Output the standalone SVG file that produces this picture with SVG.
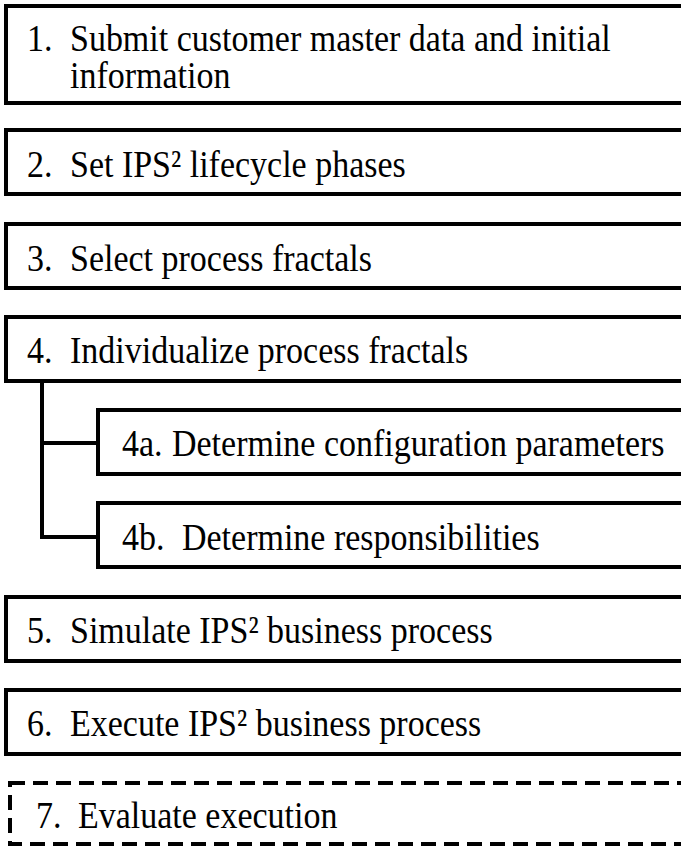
<svg xmlns="http://www.w3.org/2000/svg" width="681" height="847" viewBox="0 0 681 847">
  <style>
    .box { fill: #ffffff; stroke: #000000; stroke-width: 4; }
    .dashed { fill: #ffffff; stroke: #000000; stroke-width: 4; stroke-dasharray: 15 8; }
    .label { font-family: "Liberation Serif", "Times New Roman", serif; font-size: 34px; fill: #000000; }
    .link { fill: none; stroke: #000000; stroke-width: 4; }
  </style>
  <rect x="0" y="0" width="681" height="847" fill="#ffffff"/>

  <g id="connectors">
    <path class="link" d="M42,381 V537 H98"/>
    <path class="link" d="M42,443 H98"/>
  </g>

  <!-- labels are set in a slightly tall serif: each baseline is translated, then stretched vertically -->
  <g id="step1">
    <rect class="box" x="6" y="6" width="700" height="97"/>
    <text class="label" transform="translate(0,51) scale(1,1.14)"><tspan x="27" y="0">1.</tspan><tspan x="70" y="0">Submit customer master data and initial</tspan><tspan x="70" y="32.5">information</tspan></text>
  </g>

  <g id="step2">
    <rect class="box" x="6" y="130" width="700" height="64"/>
    <text class="label" transform="translate(0,177) scale(1,1.14)"><tspan x="27">2.</tspan><tspan x="70">Set IPS² lifecycle phases</tspan></text>
  </g>

  <g id="step3">
    <rect class="box" x="6" y="224" width="700" height="64"/>
    <text class="label" transform="translate(0,271) scale(1,1.14)"><tspan x="27">3.</tspan><tspan x="70">Select process fractals</tspan></text>
  </g>

  <g id="step4">
    <rect class="box" x="6" y="317" width="700" height="64"/>
    <text class="label" transform="translate(0,363) scale(1,1.14)"><tspan x="27">4.</tspan><tspan x="70">Individualize process fractals</tspan></text>
  </g>

  <g id="step4a">
    <rect class="box" x="98" y="410" width="700" height="64"/>
    <text class="label" transform="translate(0,456) scale(1,1.14)"><tspan x="122">4a.</tspan><tspan x="172">Determine configuration parameters</tspan></text>
  </g>

  <g id="step4b">
    <rect class="box" x="98" y="503" width="700" height="64"/>
    <text class="label" transform="translate(0,550) scale(1,1.14)"><tspan x="122">4b.</tspan><tspan x="182">Determine responsibilities</tspan></text>
  </g>

  <g id="step5">
    <rect class="box" x="6" y="597" width="700" height="64"/>
    <text class="label" transform="translate(0,643) scale(1,1.14)"><tspan x="27">5.</tspan><tspan x="70">Simulate IPS² business process</tspan></text>
  </g>

  <g id="step6">
    <rect class="box" x="6" y="690" width="700" height="64"/>
    <text class="label" transform="translate(0,736) scale(1,1.14)"><tspan x="27">6.</tspan><tspan x="70">Execute IPS² business process</tspan></text>
  </g>

  <g id="step7">
    <rect class="dashed" x="10" y="783" width="700" height="61"/>
    <text class="label" transform="translate(0,828) scale(1,1.14)"><tspan x="36">7.</tspan><tspan x="78">Evaluate execution</tspan></text>
  </g>
</svg>
